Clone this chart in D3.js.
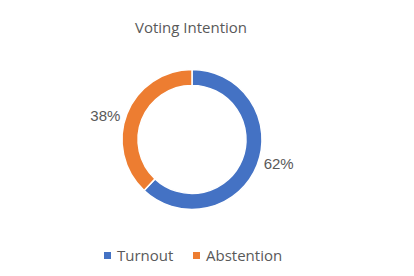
<!DOCTYPE html>
<html>
<head>
<meta charset="utf-8">
<script src="https://cdn.jsdelivr.net/npm/d3@7"></script>
<style>
  body { margin: 0; background: #fff; }
  text { font-family: "Open Sans", sans-serif; }
</style>
</head>
<body>
<svg id="chart"></svg>
<script>
let categories = ["Turnout", "Abstention"];
let values = [62, 38];
let colors = ["#4472C4", "#ED7D31"];

let svg = d3.select("svg#chart");
svg.attr("width", 414).attr("height", 276);
let center = { "x": 192, "y": 139.5 };

svg.append("text").attr("x", 191).attr("y", 33).style("text-anchor", "middle")
  .style("font-size", "15px").style("fill", "#595959").text("Voting Intention");

let pie = d3.pie().sort(null).value(d => d);
let arcs = pie(values);
let arc = d3.arc().innerRadius(54).outerRadius(70);
let labelArc = d3.arc().innerRadius(90).outerRadius(90);
// labels sit a little counter-clockwise of the slice middle, like the original
let shift = -6 * Math.PI / 180;

let g = svg.append("g").attr("transform", "translate(" + center.x + "," + center.y + ")");
g.selectAll("path").data(arcs).enter().append("path")
  .attr("d", arc)
  .attr("fill", (d, i) => colors[i])
  .attr("stroke", "#fff").attr("stroke-width", 1.5);

g.selectAll("text.lbl").data(arcs).enter().append("text")
  .attr("class", "lbl")
  .attr("transform", d => "translate(" + labelArc.centroid({ startAngle: d.startAngle + shift, endAngle: d.endAngle + shift }) + ")")
  .attr("dy", "0.35em")
  .style("text-anchor", "middle")
  .style("font-family", "'Liberation Sans', Arial, sans-serif")
  .style("font-size", "15px").style("fill", "#595959")
  .text(d => d.data + "%");

let legendX = [104, 193];
let legend = svg.selectAll("g.legend").data(categories).enter().append("g")
  .attr("class", "legend")
  .attr("transform", (d, i) => "translate(" + legendX[i] + ",252)");
legend.append("rect").attr("width", 7).attr("height", 7).attr("fill", (d, i) => colors[i]);
legend.append("text").attr("x", 13).attr("y", 9).style("font-size", "15px")
  .style("fill", "#595959").text(d => d);
</script>
</body>
</html>
